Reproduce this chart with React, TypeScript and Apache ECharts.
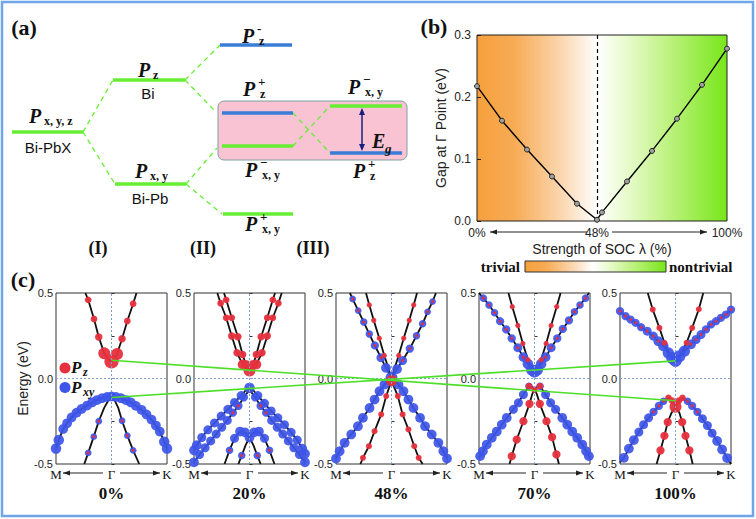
import React, { useEffect, useRef } from 'react';
import * as echarts from 'echarts';

// ---------- Panel (b) data ----------
const socPercent = [0, 10, 20, 30, 40, 48, 50, 60, 70, 80, 90, 100];
const gapAtGamma = [0.2175, 0.1618, 0.1152, 0.0718, 0.0279, 0.002, 0.0139, 0.0638, 0.113, 0.165, 0.2196, 0.278];
const socTickValues = [0, 48, 100];

// ---------- Panel (c) data: bands as [k, E(eV), Pxy weight, Pz weight]; k: M=-1, Γ=0, K=1 ----------
const bands0 = [
  [[-0.47, 0.5, 0, 0], [-0.42, 0.46, 0, 0.45], [-0.315, 0.348, 0, 0.45], [-0.23, 0.243, 0, 0.5], [-0.13, 0.147, 0, 0.8], [-0.06, 0.112, 0, 0], [0, 0.1, 0, 0.95], [0.06, 0.112, 0, 0], [0.1, 0.143, 0, 0.8], [0.19, 0.232, 0, 0.5], [0.285, 0.336, 0, 0.45], [0.39, 0.437, 0, 0.45], [0.45, 0.5, 0, 0]],
  [[-1, -0.41, 0.7, 0], [-0.95, -0.36, 0.7, 0], [-0.87, -0.295, 0.65, 0], [-0.8, -0.262, 0.65, 0], [-0.72, -0.228, 0.65, 0], [-0.63, -0.2, 0.65, 0], [-0.54, -0.178, 0.65, 0], [-0.44, -0.158, 0.65, 0], [-0.35, -0.14, 0.65, 0], [-0.26, -0.126, 0.65, 0], [-0.17, -0.115, 0.65, 0], [-0.08, -0.108, 0.65, 0], [0, -0.105, 0.65, 0], [0.08, -0.108, 0.65, 0], [0.17, -0.115, 0.65, 0], [0.26, -0.126, 0.65, 0], [0.35, -0.14, 0.65, 0], [0.44, -0.16, 0.65, 0], [0.54, -0.183, 0.65, 0], [0.63, -0.21, 0.65, 0], [0.72, -0.24, 0.65, 0], [0.8, -0.275, 0.65, 0], [0.87, -0.31, 0.65, 0], [0.95, -0.37, 0.7, 0], [1, -0.41, 0.7, 0]],
  [[0, -0.105, 0, 0], [-0.06, -0.13, 0, 0], [-0.13, -0.17, 0, 0], [-0.23, -0.25, 0.45, 0.2], [-0.32, -0.34, 0.45, 0.2], [-0.42, -0.435, 0.45, 0.2], [-0.49, -0.5, 0, 0]],
  [[0, -0.105, 0, 0], [0.06, -0.13, 0, 0], [0.12, -0.17, 0, 0], [0.19, -0.247, 0.45, 0.2], [0.285, -0.334, 0.45, 0.2], [0.39, -0.42, 0.45, 0.2], [0.5, -0.5, 0, 0]],
];

const bands20 = [
  [[-0.58, 0.5, 0, 0], [-0.52, 0.44, 0, 0.45], [-0.42, 0.355, 0, 0.45], [-0.32, 0.248, 0, 0.5], [-0.225, 0.15, 0, 0.5], [-0.124, 0.082, 0, 0.65], [-0.05, 0.055, 0, 0], [0, 0.047, 0, 0.8], [0.05, 0.055, 0, 0], [0.124, 0.082, 0, 0.65], [0.225, 0.15, 0, 0.5], [0.32, 0.248, 0, 0.5], [0.42, 0.355, 0, 0.45], [0.52, 0.44, 0, 0.45], [0.58, 0.5, 0, 0]],
  [[-0.46, 0.5, 0, 0], [-0.42, 0.46, 0, 0.45], [-0.32, 0.355, 0, 0.45], [-0.21, 0.244, 0, 0.5], [-0.124, 0.14, 0, 0.5], [-0.065, 0.082, 0, 0.6], [0, 0.047, 0, 0], [0.065, 0.082, 0, 0.6], [0.124, 0.14, 0, 0.5], [0.21, 0.244, 0, 0.5], [0.32, 0.355, 0, 0.45], [0.42, 0.46, 0, 0.45], [0.46, 0.5, 0, 0]],
  [[-1, -0.42, 0.65, 0], [-0.95, -0.39, 0.65, 0], [-0.86, -0.345, 0.6, 0], [-0.75, -0.3, 0.6, 0], [-0.63, -0.26, 0.6, 0], [-0.51, -0.22, 0.6, 0], [-0.39, -0.18, 0.6, 0], [-0.27, -0.14, 0.6, 0], [-0.15, -0.1, 0.6, 0], [-0.07, -0.07, 0, 0], [0, -0.055, 0.7, 0], [0.07, -0.07, 0, 0], [0.15, -0.1, 0.6, 0], [0.27, -0.145, 0.6, 0], [0.39, -0.19, 0.6, 0], [0.51, -0.23, 0.6, 0], [0.63, -0.27, 0.6, 0], [0.75, -0.315, 0.6, 0], [0.86, -0.36, 0.6, 0], [0.95, -0.41, 0.65, 0], [1, -0.44, 0.65, 0]],
  [[-1, -0.49, 0.65, 0], [-0.9, -0.445, 0.6, 0], [-0.8, -0.405, 0.6, 0], [-0.7, -0.365, 0.6, 0], [-0.6, -0.325, 0.6, 0], [-0.5, -0.285, 0.6, 0], [-0.4, -0.245, 0.6, 0], [-0.3, -0.2, 0.55, 0.2], [-0.2, -0.16, 0.55, 0.2], [-0.1, -0.11, 0.55, 0], [0, -0.065, 0, 0], [0.1, -0.11, 0.55, 0], [0.2, -0.16, 0.55, 0.2], [0.3, -0.2, 0.55, 0.2], [0.4, -0.245, 0.6, 0], [0.5, -0.285, 0.6, 0], [0.6, -0.325, 0.6, 0], [0.7, -0.365, 0.6, 0], [0.8, -0.405, 0.6, 0], [0.9, -0.445, 0.6, 0], [1, -0.49, 0.65, 0]],
  [[-0.45, -0.5, 0, 0], [-0.36, -0.42, 0.5, 0.2], [-0.27, -0.35, 0.6, 0], [-0.17, -0.31, 0.65, 0], [-0.08, -0.315, 0.65, 0], [0, -0.345, 0.65, 0], [0.08, -0.315, 0.65, 0], [0.17, -0.31, 0.65, 0], [0.27, -0.35, 0.6, 0], [0.36, -0.42, 0.5, 0.2], [0.45, -0.5, 0, 0]],
  [[0, -0.345, 0, 0], [-0.07, -0.39, 0, 0], [-0.14, -0.45, 0.5, 0.2], [-0.2, -0.5, 0, 0]],
  [[0, -0.345, 0, 0], [0.07, -0.39, 0, 0], [0.14, -0.45, 0.5, 0.2], [0.2, -0.5, 0, 0]],
];

const bands48 = [
  [[-0.75, 0.5, 0, 0], [-0.7, 0.465, 0.45, 0.2], [-0.6, 0.397, 0.45, 0.2], [-0.5, 0.33, 0.5, 0.2], [-0.4, 0.26, 0.5, 0.2], [-0.3, 0.193, 0.55, 0.2], [-0.19, 0.122, 0.6, 0.2], [-0.1, 0.062, 0.65, 0], [0, 0.004, 0.8, 0]],
  [[0, 0, 0, 0], [0.1, 0.055, 0.65, 0], [0.2, 0.105, 0.6, 0.2], [0.33, 0.175, 0.55, 0.2], [0.45, 0.25, 0.5, 0.2], [0.56, 0.32, 0.5, 0.2], [0.65, 0.39, 0.45, 0.2], [0.74, 0.45, 0.45, 0.2], [0.8, 0.5, 0, 0]],
  [[-0.46, 0.5, 0, 0], [-0.4, 0.43, 0, 0.35], [-0.32, 0.34, 0, 0.35], [-0.22, 0.235, 0, 0.35], [-0.13, 0.135, 0, 0.35], [-0.06, 0.065, 0, 0], [0, 0, 0, 0]],
  [[0.46, 0.5, 0, 0], [0.4, 0.43, 0, 0.35], [0.32, 0.34, 0, 0.35], [0.22, 0.235, 0, 0.35], [0.13, 0.135, 0, 0.35], [0.06, 0.065, 0, 0], [0, 0, 0, 0]],
  [[0, 0, 0, 0], [-0.126, -0.035, 0.65, 0], [-0.216, -0.074, 0.65, 0], [-0.305, -0.123, 0.65, 0], [-0.395, -0.172, 0.65, 0], [-0.515, -0.23, 0.65, 0], [-0.605, -0.279, 0.65, 0], [-0.725, -0.327, 0.65, 0], [-0.844, -0.376, 0.65, 0], [-0.934, -0.425, 0.65, 0], [-1, -0.468, 0.65, 0]],
  [[0, 0, 0, 0], [0.126, -0.035, 0.65, 0], [0.216, -0.074, 0.65, 0], [0.305, -0.123, 0.65, 0], [0.395, -0.172, 0.65, 0], [0.515, -0.23, 0.65, 0], [0.605, -0.279, 0.65, 0], [0.725, -0.327, 0.65, 0], [0.844, -0.376, 0.65, 0], [0.934, -0.425, 0.65, 0], [1, -0.468, 0.65, 0]],
  [[0, -0.012, 0, 0.75], [-0.096, -0.103, 0, 0.4], [-0.186, -0.21, 0, 0.4], [-0.305, -0.308, 0, 0.4], [-0.407, -0.396, 0, 0.4], [-0.515, -0.464, 0, 0.4], [-0.56, -0.5, 0, 0]],
  [[0, -0.012, 0, 0], [0.114, -0.103, 0, 0.4], [0.2, -0.21, 0, 0.4], [0.305, -0.298, 0, 0.4], [0.41, -0.396, 0, 0.4], [0.49, -0.464, 0, 0.4], [0.56, -0.5, 0, 0]],
];

const bands70 = [
  [[-1, 0.5, 0, 0], [-0.92, 0.47, 0.5, 0.2], [-0.82, 0.43, 0.5, 0.2], [-0.72, 0.384, 0.5, 0.2], [-0.62, 0.335, 0.55, 0.2], [-0.51, 0.287, 0.55, 0.2], [-0.41, 0.235, 0.55, 0.2], [-0.3, 0.18, 0.6, 0.2], [-0.2, 0.125, 0.65, 0.2], [-0.12, 0.085, 0.7, 0], [-0.05, 0.05, 0.75, 0], [0, 0.04, 0.8, 0]],
  [[0, 0.04, 0, 0], [0.05, 0.05, 0.75, 0], [0.12, 0.085, 0.7, 0], [0.2, 0.125, 0.65, 0.2], [0.3, 0.18, 0.6, 0.2], [0.41, 0.235, 0.55, 0.2], [0.51, 0.29, 0.55, 0.2], [0.62, 0.34, 0.55, 0.2], [0.72, 0.39, 0.5, 0.2], [0.82, 0.43, 0.5, 0.2], [0.92, 0.47, 0.5, 0.2], [0.98, 0.5, 0, 0]],
  [[-0.47, 0.5, 0, 0], [-0.4, 0.42, 0, 0.35], [-0.3, 0.31, 0, 0.35], [-0.21, 0.205, 0, 0.35], [-0.12, 0.11, 0, 0.35], [-0.05, 0.06, 0, 0], [0, 0.04, 0, 0]],
  [[0.47, 0.5, 0, 0], [0.4, 0.42, 0, 0.35], [0.3, 0.31, 0, 0.35], [0.21, 0.205, 0, 0.35], [0.12, 0.11, 0, 0.35], [0.05, 0.06, 0, 0], [0, 0.04, 0, 0]],
  [[-1, -0.465, 0, 0], [-0.98, -0.454, 0.65, 0], [-0.93, -0.425, 0.65, 0], [-0.86, -0.386, 0.65, 0], [-0.77, -0.347, 0.65, 0], [-0.68, -0.31, 0.65, 0], [-0.59, -0.27, 0.65, 0], [-0.5, -0.23, 0.65, 0], [-0.38, -0.18, 0.6, 0], [-0.29, -0.142, 0.6, 0], [-0.2, -0.094, 0.6, 0], [-0.1, -0.045, 0.5, 0.45], [-0.04, -0.05, 0, 0], [0, -0.065, 0, 0.45]],
  [[0, -0.065, 0, 0], [0.04, -0.05, 0, 0], [0.1, -0.045, 0.5, 0.45], [0.2, -0.094, 0.6, 0], [0.29, -0.142, 0.6, 0], [0.38, -0.18, 0.6, 0], [0.5, -0.23, 0.65, 0], [0.59, -0.27, 0.65, 0], [0.68, -0.31, 0.65, 0], [0.77, -0.347, 0.65, 0], [0.86, -0.386, 0.65, 0], [0.93, -0.425, 0.65, 0], [0.98, -0.454, 0.65, 0], [1, -0.465, 0, 0]],
  [[0, -0.065, 0, 0], [-0.04, -0.09, 0, 0], [-0.09, -0.148, 0, 0.55], [-0.2, -0.25, 0, 0.55], [-0.32, -0.357, 0, 0.55], [-0.41, -0.454, 0, 0.55], [-0.45, -0.5, 0, 0]],
  [[0, -0.065, 0, 0], [0.04, -0.09, 0, 0], [0.096, -0.148, 0, 0.55], [0.216, -0.25, 0, 0.55], [0.317, -0.343, 0, 0.55], [0.395, -0.444, 0, 0.55], [0.44, -0.5, 0, 0]],
];

const bands100 = [
  [[-1, 0.394, 0.55, 0.2], [-0.9, 0.365, 0.55, 0.2], [-0.81, 0.345, 0.55, 0.2], [-0.72, 0.326, 0.55, 0.2], [-0.62, 0.3, 0.55, 0.2], [-0.51, 0.277, 0.6, 0.2], [-0.4, 0.248, 0.6, 0.2], [-0.31, 0.218, 0.65, 0.2], [-0.22, 0.19, 0.7, 0], [-0.13, 0.15, 0.75, 0], [-0.06, 0.12, 0.8, 0], [0, 0.105, 0.85, 0]],
  [[0, 0.105, 0, 0], [0.07, 0.13, 0.8, 0], [0.16, 0.16, 0.75, 0], [0.28, 0.2, 0.65, 0.2], [0.37, 0.228, 0.6, 0.2], [0.46, 0.257, 0.6, 0.2], [0.55, 0.287, 0.55, 0.2], [0.64, 0.316, 0.55, 0.2], [0.73, 0.335, 0.55, 0.2], [0.82, 0.355, 0.55, 0.2], [0.91, 0.374, 0.55, 0.2], [1, 0.403, 0.55, 0.2]],
  [[-0.5, 0.5, 0, 0], [-0.41, 0.403, 0, 0.4], [-0.29, 0.296, 0, 0.4], [-0.2, 0.209, 0, 0.4], [-0.11, 0.15, 0, 0], [0, 0.105, 0, 0]],
  [[0, 0.105, 0, 0], [0.11, 0.15, 0, 0], [0.2, 0.209, 0, 0.4], [0.3, 0.296, 0, 0.4], [0.42, 0.405, 0, 0.4], [0.5, 0.5, 0, 0]],
  [[-1, -0.49, 0, 0], [-0.93, -0.464, 0.65, 0], [-0.84, -0.41, 0.65, 0], [-0.75, -0.36, 0.65, 0], [-0.66, -0.313, 0.6, 0], [-0.575, -0.27, 0.6, 0], [-0.485, -0.23, 0.6, 0], [-0.395, -0.195, 0.55, 0.2], [-0.3, -0.16, 0.55, 0.2], [-0.216, -0.133, 0.5, 0.2], [-0.126, -0.113, 0, 0.45], [-0.06, -0.13, 0, 0.45], [0, -0.165, 0, 0]],
  [[0, -0.165, 0, 0], [0.06, -0.13, 0, 0.45], [0.126, -0.113, 0, 0.45], [0.216, -0.133, 0.5, 0.2], [0.3, -0.16, 0.55, 0.2], [0.395, -0.195, 0.55, 0.2], [0.485, -0.235, 0.6, 0], [0.575, -0.275, 0.6, 0], [0.66, -0.32, 0.6, 0], [0.75, -0.365, 0.65, 0], [0.84, -0.415, 0.65, 0], [0.93, -0.465, 0.65, 0], [1, -0.5, 0, 0]],
  [[0, -0.165, 0, 0.8], [-0.07, -0.2, 0, 0], [-0.14, -0.255, 0, 0.55], [-0.2, -0.335, 0, 0.55], [-0.27, -0.42, 0, 0.55], [-0.34, -0.5, 0, 0]],
  [[0, -0.165, 0, 0], [0.07, -0.2, 0, 0], [0.12, -0.255, 0, 0.55], [0.18, -0.335, 0, 0.55], [0.25, -0.42, 0, 0.55], [0.31, -0.5, 0, 0]],
];

const panelBands = [bands0, bands20, bands48, bands70, bands100];
const panelLabels = ['0%', '20%', '48%', '70%', '100%'];
const kTickNames = ['M', 'Γ', 'K'];
// band-edge connectors across panels (panel index 0..4, energy at Γ)
const connectorA = [[0, 0.107], [4, -0.13]];
const connectorB = [[0, -0.111], [4, 0.103]];

// ---------- styling ----------
const SANS = "'Liberation Sans', Arial, sans-serif";
const SERIF = "'Liberation Serif', 'Times New Roman', serif";
const BLUE = '#3d55e8';
const RED = '#e6303e';
const LVL_GREEN = '#66ee33';
const LVL_BLUE = '#3a7dd6';
const DOT_SCALE = 15;
const PANEL_LEFTS = [56, 194, 336, 479, 620];
const PANEL_W = 111;
const PANEL_TOP = 293;
const PANEL_H = 171;

const socGradient = () =>
  new echarts.graphic.LinearGradient(0, 0, 1, 0, [
    { offset: 0, color: '#f6a03c' },
    { offset: 0.15, color: '#f7ab55' },
    { offset: 0.35, color: '#fbdab6' },
    { offset: 0.48, color: '#ffffff' },
    { offset: 0.6, color: '#e8fbcc' },
    { offset: 0.8, color: '#b4f070' },
    { offset: 1, color: '#78e61a' },
  ]);

type O = { fs?: number; fw?: string; fst?: string; ff?: string; al?: string; fill?: string };
const txt = (x: number, y: number, text: string, o: O = {}) => ({
  type: 'text',
  x,
  y,
  style: {
    text,
    fontFamily: o.ff || SERIF,
    fontSize: o.fs || 14,
    fontWeight: o.fw || 'normal',
    fontStyle: o.fst || 'normal',
    fill: o.fill || '#111',
    align: o.al || 'center',
    verticalAlign: 'middle',
  },
});

const plab = (x: number, y: number, sup: string, sub: string) => {
  const els: any[] = [txt(x, y, 'P', { fs: 20, fw: 'bold', fst: 'italic', al: 'left' })];
  if (sup) els.push(txt(x + 15, y - 8, sup, { fs: 13, fw: 'bold', al: 'left' }));
  els.push(txt(x + (sup ? 17 : 15), y + 5, sub, { fs: 12, fw: 'bold', al: 'left' }));
  return els;
};

const hline = (x1: number, x2: number, y: number, color: string) => ({
  type: 'line',
  shape: { x1, y1: y, x2, y2: y },
  style: { stroke: color, lineWidth: 3.5 },
});
const dline = (x1: number, y1: number, x2: number, y2: number) => ({
  type: 'line',
  shape: { x1, y1, x2, y2 },
  style: { stroke: LVL_GREEN, lineWidth: 1.3, lineDash: [5, 4] },
});

const harrow = (x1: number, x2: number, y: number, dir: 'l' | 'r') => {
  const hx = dir === 'l' ? x1 : x2;
  const s = dir === 'l' ? 1 : -1;
  return [
    { type: 'line', shape: { x1, y1: y, x2, y2: y }, style: { stroke: '#222', lineWidth: 1 } },
    { type: 'polygon', shape: { points: [[hx, y], [hx + s * 7, y - 2.5], [hx + s * 7, y + 2.5]] }, style: { fill: '#222' } },
  ];
};

function buildOption() {
  const grids: any[] = [
    { left: 477, top: 35, width: 250, height: 186, show: true, backgroundColor: socGradient(), borderColor: '#222', borderWidth: 1 },
  ];
  const xAxes: any[] = [
    {
      gridIndex: 0, type: 'value', min: 0, max: 100,
      axisLine: { show: false }, axisTick: { show: false }, splitLine: { show: false },
      axisLabel: { customValues: socTickValues, formatter: (v: number) => v + '%', fontFamily: SANS, fontSize: 12, color: '#222', margin: 6 },
      name: 'Strength of SOC λ (%)', nameLocation: 'middle', nameGap: 21,
      nameTextStyle: { fontFamily: SANS, fontSize: 14, color: '#222' },
    },
  ];
  const yAxes: any[] = [
    {
      gridIndex: 0, type: 'value', min: 0, max: 0.3, interval: 0.1,
      axisLine: { show: false }, splitLine: { show: false },
      axisTick: { show: true, inside: true, length: 4, lineStyle: { color: '#222' } },
      axisLabel: { formatter: (v: number) => v.toFixed(1), fontFamily: SANS, fontSize: 12, color: '#222', margin: 6 },
      name: 'Gap at Γ Point (eV)', nameLocation: 'middle', nameGap: 29,
      nameTextStyle: { fontFamily: SANS, fontSize: 14, color: '#222' },
    },
  ];
  const series: any[] = [
    {
      type: 'line', xAxisIndex: 0, yAxisIndex: 0,
      data: socPercent.map((x, i) => [x, gapAtGamma[i]]),
      symbol: 'circle', symbolSize: 5,
      itemStyle: { color: '#a0a0a0', borderColor: '#222', borderWidth: 1 },
      lineStyle: { color: '#000', width: 1.4 },
      z: 5,
      markLine: {
        silent: true, symbol: 'none', label: { show: false },
        lineStyle: { color: '#000', type: [4, 3], width: 1.2 },
        data: [{ xAxis: 48 }],
      },
    },
  ];

  panelBands.forEach((bands, i) => {
    const gi = i + 1;
    grids.push({ left: PANEL_LEFTS[i], top: PANEL_TOP, width: PANEL_W, height: PANEL_H, show: true, borderColor: '#333', borderWidth: 1, backgroundColor: '#fff' });
    xAxes.push({
      gridIndex: gi, type: 'value', min: -1, max: 1, interval: 1,
      axisLine: { show: false }, axisTick: { show: false }, splitLine: { show: false },
      axisLabel: { formatter: (v: number) => kTickNames[Math.round(v) + 1], fontFamily: SERIF, fontSize: 13, color: '#111', margin: 4 },
    });
    yAxes.push({
      gridIndex: gi, type: 'value', min: -0.5, max: 0.5, interval: 0.25,
      axisLine: { show: false }, splitLine: { show: false },
      axisTick: { show: true, inside: true, length: 3, lineStyle: { color: '#333' } },
      axisLabel: { formatter: (v: number) => (Math.abs(Math.abs(v) - 0.25) < 1e-6 ? '' : v.toFixed(1)), fontFamily: SANS, fontSize: 11, color: '#222', margin: 3 },
      ...(i === 0
        ? { name: 'Energy (eV)', nameLocation: 'middle', nameGap: 24, nameTextStyle: { fontFamily: SANS, fontSize: 14, color: '#222' } }
        : {}),
    });
    bands.forEach((b, j) => {
      series.push({
        type: 'line', xAxisIndex: gi, yAxisIndex: gi,
        data: b.map((p) => [p[0], p[1]]),
        symbol: 'none', showSymbol: false, silent: true,
        lineStyle: { color: '#111', width: 1.8 },
        z: 2,
        ...(j === 0
          ? {
              markLine: {
                silent: true, symbol: 'none', label: { show: false },
                lineStyle: { color: '#7f9fd4', type: [2, 2], width: 1 },
                data: [{ xAxis: 0 }, { yAxis: 0 }],
              },
            }
          : {}),
      });
    });
    const pts = bands.flat();
    series.push({
      type: 'scatter', xAxisIndex: gi, yAxisIndex: gi, silent: true, clip: true,
      data: pts.filter((p) => p[2] > 0).map((p) => [p[0], p[1], p[2]]),
      symbolSize: (v: number[]) => v[2] * DOT_SCALE,
      itemStyle: { color: BLUE, opacity: 0.92 },
      z: 3,
    });
    series.push({
      type: 'scatter', xAxisIndex: gi, yAxisIndex: gi, silent: true, clip: true,
      data: pts.filter((p) => p[3] > 0).map((p) => [p[0], p[1], p[3]]),
      symbolSize: (v: number[]) => v[2] * DOT_SCALE,
      itemStyle: { color: RED, opacity: 0.95 },
      z: 4,
    });
  });

  // overlay grid spanning Γ of first panel to Γ of last panel
  const g0 = PANEL_LEFTS[0] + PANEL_W / 2;
  const g4 = PANEL_LEFTS[4] + PANEL_W / 2;
  grids.push({ left: g0, top: PANEL_TOP, width: g4 - g0, height: PANEL_H, show: false });
  xAxes.push({ gridIndex: 6, type: 'value', min: 0, max: 4, show: false });
  yAxes.push({ gridIndex: 6, type: 'value', min: -0.5, max: 0.5, show: false });
  [connectorA, connectorB].forEach((c) =>
    series.push({
      type: 'line', xAxisIndex: 6, yAxisIndex: 6, data: c, symbol: 'none', silent: true,
      lineStyle: { color: '#4ddf28', width: 1.6 }, z: 10, clip: false,
    })
  );

  // ---------- graphic ----------
  const g: any[] = [];
  g.push({ type: 'rect', shape: { x: 2, y: 2, width: 751, height: 514 }, style: { fill: 'none', stroke: '#6ea6e8', lineWidth: 2.5 } });
  g.push(txt(24, 27, '(a)', { fs: 22, fw: 'bold' }));
  g.push(txt(434, 26, '(b)', { fs: 22, fw: 'bold' }));
  g.push(txt(23, 279, '(c)', { fs: 22, fw: 'bold' }));

  // panel (a) schematic
  g.push({ type: 'rect', shape: { x: 218, y: 101, width: 189, height: 59, r: 6 }, style: { fill: '#f9c3d3', stroke: '#7f9f9f', lineWidth: 1 } });
  g.push(dline(83, 132, 113, 80), dline(83, 132, 115, 184), dline(185, 80, 220, 45), dline(185, 80, 214, 110));
  g.push(dline(186, 184, 217, 148), dline(186, 184, 222, 214), dline(293, 113, 330, 153), dline(293, 146, 330, 106));
  g.push(hline(12, 83, 132, LVL_GREEN), hline(113, 185, 80, LVL_GREEN), hline(115, 186, 184, LVL_GREEN));
  g.push(hline(220, 292, 45, LVL_BLUE), hline(222, 293, 113, LVL_BLUE), hline(222, 293, 146, LVL_GREEN), hline(223, 293, 214, LVL_GREEN));
  g.push(hline(330, 402, 106, LVL_GREEN), hline(330, 402, 153, LVL_BLUE));
  g.push(...plab(29, 116, '', 'x, y, z'));
  g.push(txt(48, 147, 'Bi-PbX', { ff: SANS, fs: 15 }));
  g.push(...plab(138, 70, '', 'z'));
  g.push(txt(148, 93, 'Bi', { ff: SANS, fs: 15 }));
  g.push(...plab(135, 171, '', 'x, y'));
  g.push(txt(150, 198, 'Bi-Pb', { ff: SANS, fs: 15 }));
  g.push(...plab(242, 36, '-', 'z'));
  g.push(...plab(243, 89, '+', 'z'));
  g.push(...plab(245, 170, '−', 'x, y'));
  g.push(...plab(245, 224, '+', 'x, y'));
  g.push(...plab(348, 87, '−', 'x, y'));
  g.push(...plab(353, 171, '+', 'z'));
  g.push({ type: 'line', shape: { x1: 362, y1: 110, x2: 362, y2: 149 }, style: { stroke: '#1a1f80', lineWidth: 1.5 } });
  g.push({ type: 'polygon', shape: { points: [[362, 108], [359, 115], [365, 115]] }, style: { fill: '#1a1f80' } });
  g.push({ type: 'polygon', shape: { points: [[362, 151], [359, 144], [365, 144]] }, style: { fill: '#1a1f80' } });
  g.push(txt(372, 141, 'E', { fs: 20, fw: 'bold', fst: 'italic', al: 'left' }));
  g.push(txt(385, 148, 'g', { fs: 13, fw: 'bold', fst: 'italic', al: 'left' }));
  g.push(txt(98, 248, '(I)', { fs: 18, fw: 'bold' }));
  g.push(txt(203, 248, '(II)', { fs: 18, fw: 'bold' }));
  g.push(txt(313, 248, '(III)', { fs: 18, fw: 'bold' }));

  // panel (b) decorations
  g.push(...harrow(490, 587, 232, 'l'), ...harrow(612, 707, 232, 'r'));
  g.push({ type: 'rect', shape: { x: 525, y: 261, width: 141, height: 11 }, style: { fill: socGradient(), stroke: '#333', lineWidth: 1 } });
  g.push(txt(520, 267, 'trivial', { fs: 15, fw: 'bold', al: 'right' }));
  g.push(txt(669, 267, 'nontrivial', { fs: 15, fw: 'bold', al: 'left' }));

  // panel (c) decorations
  PANEL_LEFTS.forEach((L, i) => {
    g.push(...harrow(L + 7, L + 47, 473, 'l'), ...harrow(L + 64, L + 104, 473, 'r'));
    g.push(txt(L + PANEL_W / 2, 493, panelLabels[i], { fs: 17, fw: 'bold' }));
  });
  g.push({ type: 'circle', shape: { cx: 65, cy: 368, r: 5.5 }, style: { fill: RED } });
  g.push(txt(71, 367, 'P', { fs: 17, fw: 'bold', fst: 'italic', al: 'left' }));
  g.push(txt(83, 372, 'z', { fs: 12, fw: 'bold', fst: 'italic', al: 'left' }));
  g.push({ type: 'circle', shape: { cx: 65, cy: 387.5, r: 5.5 }, style: { fill: BLUE } });
  g.push(txt(71, 387, 'P', { fs: 17, fw: 'bold', fst: 'italic', al: 'left' }));
  g.push(txt(83, 392, 'xy', { fs: 12, fw: 'bold', fst: 'italic', al: 'left' }));

  return {
    animation: false,
    backgroundColor: '#fff',
    grid: grids,
    xAxis: xAxes,
    yAxis: yAxes,
    series,
    graphic: { elements: g.map((e) => ({ ...e, z: 50 })) },
  };
}

export default function App() {
  const ref = useRef<HTMLDivElement>(null);
  useEffect(() => {
    const chart = echarts.init(ref.current as HTMLDivElement, null, { renderer: 'svg' });
    chart.setOption(buildOption() as any);
    return () => chart.dispose();
  }, []);
  return <div ref={ref} style={{ width: 756, height: 519, position: 'absolute', left: 0, top: 0 }} />;
}
